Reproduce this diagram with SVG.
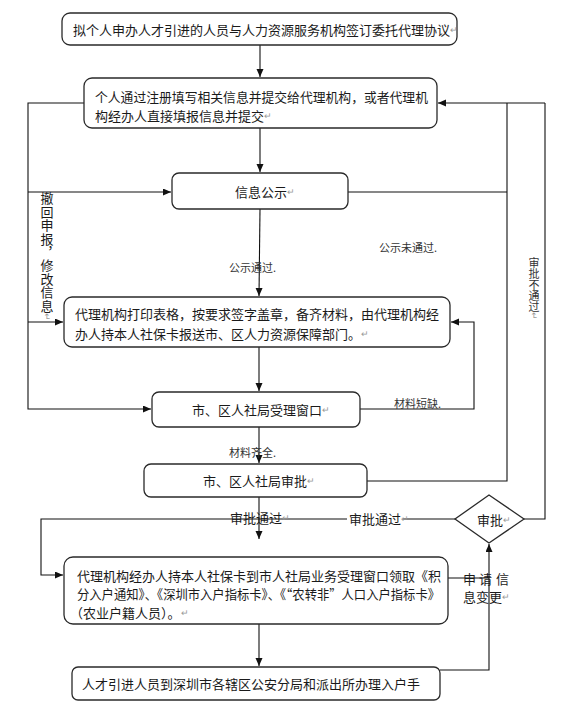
<svg xmlns="http://www.w3.org/2000/svg" width="575" height="717" viewBox="0 0 575 717">
<style>
text{font-family:"Noto Sans CJK SC","Noto Sans",sans-serif;fill:#1a1a1a;dominant-baseline:central}
.b{fill:#fff;stroke:#2a2a2a;stroke-width:1.3}
.t{font-size:13px}
.s{font-size:11px;fill:#333}
.r{fill:#999;font-size:9px}
.l{fill:none;stroke:#111;stroke-width:1.1}
.v{writing-mode:tb}
</style>
<defs>
<marker id="a" markerWidth="9" markerHeight="8" refX="8" refY="3.5" orient="auto" markerUnits="userSpaceOnUse">
<path d="M0,0 L8,3.5 L0,7 z" fill="#111"/>
</marker>
</defs>
<rect width="575" height="717" fill="#fff"/>
<g id="connectors">
<path class="l" d="M260,45 V77" marker-end="url(#a)"/>
<path class="l" d="M260,128 V172" marker-end="url(#a)"/>
<path class="l" d="M84,103 H28 V409 H151" marker-end="url(#a)"/>
<path class="l" d="M28,192 H171" marker-end="url(#a)"/>
<path class="l" d="M28,322 H63" marker-end="url(#a)"/>
<path class="l" d="M545,103 H438" marker-end="url(#a)"/>
<path class="l" d="M507,103 V481 H367"/>
<path class="l" d="M348,192 H507"/>
<path class="l" d="M545,103 V519 H524"/>
<path class="l" d="M260,209 L259,296" marker-end="url(#a)"/>
<path class="l" d="M259,347 V391" marker-end="url(#a)"/>
<path class="l" d="M360,409 H474 V322 H451" marker-end="url(#a)"/>
<path class="l" d="M259,427 V463" marker-end="url(#a)"/>
<path class="l" d="M259,497 V539" marker-end="url(#a)"/>
<path class="l" d="M455,519 H41 V575 H63" marker-end="url(#a)"/>
<path class="l" d="M259,624 V666" marker-end="url(#a)"/>
<path class="l" d="M440,670 H489 V544" marker-end="url(#a)"/>
<path class="l" d="M448,578 H489"/>
</g>
<g id="labels">
<text class="t v" x="47" y="192" letter-spacing="0.4">撤回申报，修改信息<tspan class="r">↵</tspan></text>
<text class="s v" x="534" y="257">审批不通过<tspan class="r">↵</tspan></text>
<text class="s" x="229" y="267">公示通过.</text>
<text class="s" x="379" y="247">公示未通过.</text>
<text class="s" x="394" y="403">材料短缺.</text>
<text class="s" x="229" y="452">材料齐全.</text>
<text class="t" x="230" y="517">审批通过<tspan class="r">↵</tspan></text>
<rect x="347" y="509" width="56" height="18" fill="#fff"/>
<text class="t" x="349" y="518">审批通过<tspan class="r">↵</tspan></text>
<text class="t" x="463" y="578">申<tspan x="479">请</tspan><tspan x="496">信</tspan></text>
<text class="t" x="463" y="596">息变更<tspan class="r">↵</tspan></text>
</g>
<g id="n1">
<rect class="b" x="62" y="13" width="395" height="32" rx="8"/>
<text class="t" x="73" y="29">拟个人申办人才引进的人员与人力资源服务机构签订委托代理协议<tspan class="r">↵</tspan></text>
</g>
<g id="n2">
<rect class="b" x="84" y="78" width="353" height="50" rx="8"/>
<text class="t" x="95" y="96" textLength="333" lengthAdjust="spacingAndGlyphs">个人通过注册填写相关信息并提交给代理机构，或者代理机</text>
<text class="t" x="95" y="115">构经办人直接填报信息并提交<tspan class="r">↵</tspan></text>
</g>
<g id="n3">
<rect class="b" x="172" y="173" width="176" height="36" rx="7"/>
<text class="t" x="235" y="191">信息公示<tspan class="r">↵</tspan></text>
</g>
<g id="n4">
<rect class="b" x="64" y="297" width="386" height="50" rx="8"/>
<text class="t" x="75" y="313">代理机构打印表格，按要求签字盖章，备齐材料，由代理机构经</text>
<text class="t" x="75" y="333">办人持本人社保卡报送市、区人力资源保障部门。<tspan class="r">↵</tspan></text>
</g>
<g id="n5">
<rect class="b" x="152" y="392" width="208" height="35" rx="7"/>
<text class="t" x="192" y="409">市、区人社局受理窗口<tspan class="r">↵</tspan></text>
</g>
<g id="n6">
<rect class="b" x="144" y="464" width="223" height="33" rx="7"/>
<text class="t" x="203" y="480">市、区人社局审批<tspan class="r">↵</tspan></text>
</g>
<g id="n7">
<path class="b" d="M489,495 L524,519 L489,543 L455,519 Z"/>
<text class="t" x="477" y="519">审批<tspan class="r">↵</tspan></text>
</g>
<g id="n8">
<rect class="b" x="64" y="557" width="384" height="67" rx="9"/>
<text class="t" x="77" y="575">代理机构经办人持本人社保卡到市人社局业务受理窗口领取《积</text>
<text class="t" x="77" y="593" textLength="363" lengthAdjust="spacingAndGlyphs">分入户通知》、《深圳市入户指标卡》、《“农转非”人口入户指标卡》</text>
<text class="t" x="70" y="612">（农业户籍人员）。<tspan class="r">↵</tspan></text>
</g>
<g id="n9">
<rect class="b" x="72" y="667" width="368" height="33" rx="6"/>
<text class="t" x="82" y="683">人才引进人员到深圳市各辖区公安分局和派出所办理入户手</text>
</g>
</svg>
